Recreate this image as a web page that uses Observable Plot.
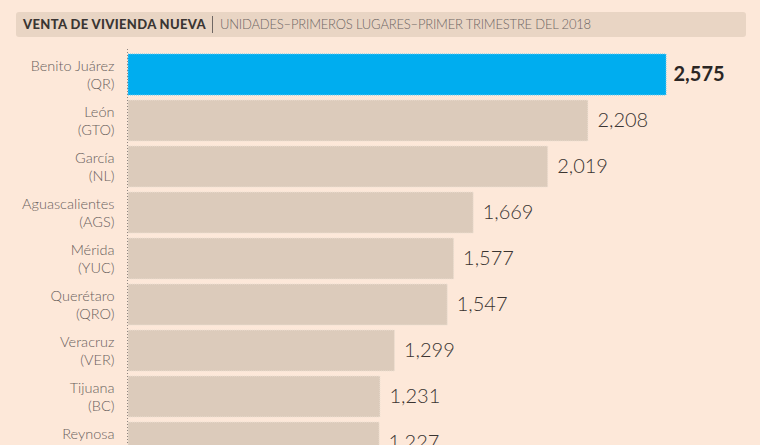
<!DOCTYPE html>
<html>
<head>
<meta charset="utf-8">
<script src="https://cdn.jsdelivr.net/npm/d3@7"></script>
<script src="https://cdn.jsdelivr.net/npm/@observablehq/plot@0.6"></script>
<style>
  html, body { margin: 0; padding: 0; background: #FDE8D9; overflow: hidden; }
  body { width: 760px; font-family: Lato, "Open Sans", sans-serif; }
  .hdr { position: absolute; left: 16px; top: 12px; width: 730px; height: 25px; background: #E9D5C4; border-radius: 3px;
         font-size: 13px; line-height: 25px; white-space: nowrap; }
  .hdr .t { position: absolute; left: 7px; font-weight: 900; color: #3a3533; letter-spacing: 0.35px; }
  .hdr .sep { position: absolute; left: 196px; top: 4px; width: 1px; height: 17px; background: #6f6764; }
  .hdr .s { position: absolute; left: 204px; font-weight: 300; color: #6f6764; letter-spacing: -0.2px; }
  #chart { position: absolute; left: 0; top: 45px; }
</style>
</head>
<body>
<div class="hdr"><span class="t">VENTA DE VIVIENDA NUEVA</span><span class="sep"></span><span class="s">UNIDADES–PRIMEROS LUGARES–PRIMER TRIMESTRE DEL 2018</span></div>
<div id="chart"></div>
<script>
const cities = ["Benito Juárez", "León", "García", "Aguascalientes", "Mérida", "Querétaro", "Veracruz", "Tijuana", "Reynosa"];
const states = ["QR", "GTO", "NL", "AGS", "YUC", "QRO", "VER", "BC", "TAMPS"];
const units = [2575, 2208, 2019, 1669, 1577, 1547, 1299, 1231, 1227];

const data = cities.map((c, i) => ({
  key: c, label: c + "\n(" + states[i] + ")", value: units[i], top: i === 0
}));
const fmt = d3.format(",");

const chart = Plot.plot({
  width: 760,
  height: 429,
  marginLeft: 118,
  marginRight: 94,
  marginTop: 4,
  marginBottom: 7,
  style: { background: "transparent", fontFamily: "Lato, 'Open Sans', sans-serif" },
  x: { domain: [0, 2575], axis: null },
  y: { domain: cities, paddingInner: 0.118, paddingOuter: 0.059, axis: null },
  marks: [
    Plot.barX(data, {
      x: "value", y: "key", insetLeft: 10,
      fill: d => d.top ? "#00ADEF" : "#DCCBBB",
      stroke: d => d.top ? "#5cc8f2" : "#EDE0D3",
      strokeWidth: 1, strokeDasharray: "1,1"
    }),
    Plot.ruleX([0], { dx: 9, stroke: "#8f8580", strokeWidth: 1, strokeDasharray: "1,2" }),
    Plot.text(data, {
      x: 0, y: "key", text: "label", dx: -4, dy: -1, textAnchor: "end",
      fontSize: 14.5, lineHeight: 1.25, fill: "#6a615d", fontWeight: 300
    }),
    Plot.text(data.filter(d => !d.top), {
      x: "value", y: "key", text: d => fmt(d.value), dx: 9, textAnchor: "start",
      fontSize: 20, fill: "#3a3431", fontWeight: 300, letterSpacing: "-0.5px"
    }),
    Plot.text(data.filter(d => d.top), {
      x: "value", y: "key", text: d => fmt(d.value), dx: 7, textAnchor: "start",
      fontSize: 20, fill: "#2b2624", fontWeight: 700
    })
  ]
});
document.getElementById("chart").append(chart);
</script>
</body>
</html>
